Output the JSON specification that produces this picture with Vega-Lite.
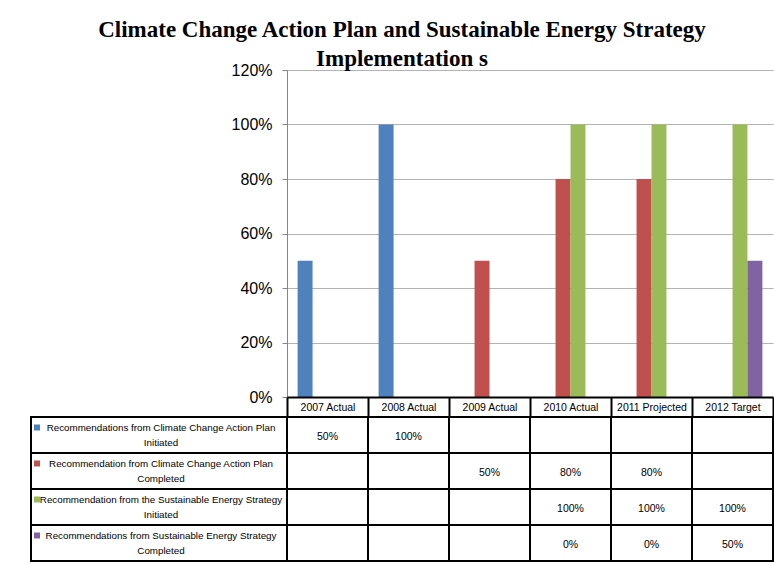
{
  "$schema": "https://vega.github.io/schema/vega-lite/v6.json",
  "padding": {"left": 30, "top": 19, "right": 0, "bottom": 0},
  "background": "white",
  "title": {
    "text": ["Climate Change Action Plan and Sustainable Energy Strategy", "Implementation s"],
    "font": "Liberation Serif",
    "fontSize": 23,
    "fontWeight": "bold",
    "lineHeight": 29,
    "color": "black",
    "anchor": "middle",
    "offset": -9
  },
  "datasets": {
    "cells": [
      {"period": "2007 Actual", "series": "Recommendations from Climate Change Action Plan\nInitiated", "value": 0.5},
      {"period": "2008 Actual", "series": "Recommendations from Climate Change Action Plan\nInitiated", "value": 1.0},
      {"period": "2009 Actual", "series": "Recommendations from Climate Change Action Plan\nInitiated", "value": null},
      {"period": "2010 Actual", "series": "Recommendations from Climate Change Action Plan\nInitiated", "value": null},
      {"period": "2011 Projected", "series": "Recommendations from Climate Change Action Plan\nInitiated", "value": null},
      {"period": "2012 Target", "series": "Recommendations from Climate Change Action Plan\nInitiated", "value": null},
      {"period": "2007 Actual", "series": "Recommendation from Climate Change Action Plan\nCompleted", "value": null},
      {"period": "2008 Actual", "series": "Recommendation from Climate Change Action Plan\nCompleted", "value": null},
      {"period": "2009 Actual", "series": "Recommendation from Climate Change Action Plan\nCompleted", "value": 0.5},
      {"period": "2010 Actual", "series": "Recommendation from Climate Change Action Plan\nCompleted", "value": 0.8},
      {"period": "2011 Projected", "series": "Recommendation from Climate Change Action Plan\nCompleted", "value": 0.8},
      {"period": "2012 Target", "series": "Recommendation from Climate Change Action Plan\nCompleted", "value": null},
      {"period": "2007 Actual", "series": "Recommendation from the Sustainable Energy Strategy\nInitiated", "value": null},
      {"period": "2008 Actual", "series": "Recommendation from the Sustainable Energy Strategy\nInitiated", "value": null},
      {"period": "2009 Actual", "series": "Recommendation from the Sustainable Energy Strategy\nInitiated", "value": null},
      {"period": "2010 Actual", "series": "Recommendation from the Sustainable Energy Strategy\nInitiated", "value": 1.0},
      {"period": "2011 Projected", "series": "Recommendation from the Sustainable Energy Strategy\nInitiated", "value": 1.0},
      {"period": "2012 Target", "series": "Recommendation from the Sustainable Energy Strategy\nInitiated", "value": 1.0},
      {"period": "2007 Actual", "series": "Recommendations from Sustainable Energy Strategy\nCompleted", "value": null},
      {"period": "2008 Actual", "series": "Recommendations from Sustainable Energy Strategy\nCompleted", "value": null},
      {"period": "2009 Actual", "series": "Recommendations from Sustainable Energy Strategy\nCompleted", "value": null},
      {"period": "2010 Actual", "series": "Recommendations from Sustainable Energy Strategy\nCompleted", "value": 0.0},
      {"period": "2011 Projected", "series": "Recommendations from Sustainable Energy Strategy\nCompleted", "value": 0.0},
      {"period": "2012 Target", "series": "Recommendations from Sustainable Energy Strategy\nCompleted", "value": 0.5}
    ]
  },
  "columns": 2,
  "spacing": {"row": 20, "column": 0},
  "bounds": "flush",
  "concat": [
    {
      "width": 256,
      "height": 327,
      "data": {"values": []},
      "mark": "text"
    },
    {
      "width": 486,
      "height": 327,
      "data": {"name": "cells"},
      "mark": {"type": "bar"},
      "encoding": {
        "x": {
          "field": "period",
          "type": "nominal",
          "sort": ["2007 Actual", "2008 Actual", "2009 Actual", "2010 Actual", "2011 Projected", "2012 Target"],
          "scale": {"paddingInner": 0, "paddingOuter": 0},
          "axis": {
            "title": null,
            "labelAngle": 0,
            "tickBand": "extent",
            "tickSize": 20,
            "tickWidth": 2,
            "tickColor": "black",
            "domainColor": "black",
            "domainWidth": 2,
            "labelBaseline": "middle",
            "labelPadding": -9.5,
            "labelFontSize": 10.5,
            "labelColor": "black",
            "grid": false,
            "zindex": 1
          }
        },
        "xOffset": {
          "field": "series",
          "type": "nominal",
          "sort": [
            "Recommendations from Climate Change Action Plan\nInitiated",
            "Recommendation from Climate Change Action Plan\nCompleted",
            "Recommendation from the Sustainable Energy Strategy\nInitiated",
            "Recommendations from Sustainable Energy Strategy\nCompleted"
          ],
          "scale": {"paddingInner": 0, "paddingOuter": 0.71}
        },
        "y": {
          "field": "value",
          "type": "quantitative",
          "scale": {"domain": [0, 1.2], "nice": false},
          "axis": {
            "title": null,
            "values": [0, 0.2, 0.4, 0.6, 0.8, 1.0, 1.2],
            "format": ".0%",
            "domainColor": "#868686",
            "tickColor": "#868686",
            "tickSize": 5,
            "labelPadding": 10,
            "labelFontSize": 16,
            "labelColor": "black",
            "gridColor": "#b3b3b3",
            "gridWidth": 1
          }
        },
        "color": {
          "field": "series",
          "type": "nominal",
          "scale": {
            "domain": [
              "Recommendations from Climate Change Action Plan\nInitiated",
              "Recommendation from Climate Change Action Plan\nCompleted",
              "Recommendation from the Sustainable Energy Strategy\nInitiated",
              "Recommendations from Sustainable Energy Strategy\nCompleted"
            ],
            "range": ["#4F81BD", "#C0504D", "#9BBB59", "#8064A2"]
          },
          "legend": null
        }
      }
    },
    {
      "width": 256,
      "height": 144,
      "data": {"name": "cells"},
      "transform": [{"aggregate": [{"op": "count", "as": "n"}], "groupby": ["series"]}],
      "encoding": {
        "y": {
          "field": "series",
          "type": "nominal",
          "sort": [
            "Recommendations from Climate Change Action Plan\nInitiated",
            "Recommendation from Climate Change Action Plan\nCompleted",
            "Recommendation from the Sustainable Energy Strategy\nInitiated",
            "Recommendations from Sustainable Energy Strategy\nCompleted"
          ],
          "scale": {"paddingInner": 0, "paddingOuter": 0},
          "axis": null
        }
      },
      "layer": [
        {"mark": {"type": "rect", "fill": "white", "stroke": "black", "strokeWidth": 2}},
        {
          "mark": {"type": "text", "lineBreak": "\n", "lineHeight": 15, "fontSize": 9.8, "align": "center", "baseline": "middle", "dx": 2, "dy": -7.5, "color": "black"},
          "encoding": {"text": {"field": "series", "type": "nominal"}}
        },
        {
          "mark": {"type": "square", "size": 36, "opacity": 1, "filled": true, "xOffset": -122, "yOffset": -7.5},
          "encoding": {
            "color": {
              "field": "series",
              "type": "nominal",
              "scale": {
                "domain": [
                  "Recommendations from Climate Change Action Plan\nInitiated",
                  "Recommendation from Climate Change Action Plan\nCompleted",
                  "Recommendation from the Sustainable Energy Strategy\nInitiated",
                  "Recommendations from Sustainable Energy Strategy\nCompleted"
                ],
                "range": ["#4F81BD", "#C0504D", "#9BBB59", "#8064A2"]
              },
              "legend": null
            }
          }
        }
      ]
    },
    {
      "width": 486,
      "height": 144,
      "data": {"name": "cells"},
      "encoding": {
        "x": {
          "field": "period",
          "type": "nominal",
          "sort": ["2007 Actual", "2008 Actual", "2009 Actual", "2010 Actual", "2011 Projected", "2012 Target"],
          "scale": {"paddingInner": 0, "paddingOuter": 0},
          "axis": null
        },
        "y": {
          "field": "series",
          "type": "nominal",
          "sort": [
            "Recommendations from Climate Change Action Plan\nInitiated",
            "Recommendation from Climate Change Action Plan\nCompleted",
            "Recommendation from the Sustainable Energy Strategy\nInitiated",
            "Recommendations from Sustainable Energy Strategy\nCompleted"
          ],
          "scale": {"paddingInner": 0, "paddingOuter": 0},
          "axis": null
        }
      },
      "layer": [
        {"mark": {"type": "rect", "fill": "white", "stroke": "black", "strokeWidth": 2}},
        {
          "transform": [{"filter": "isValid(datum.value)"}],
          "mark": {"type": "text", "fontSize": 10.5, "align": "center", "baseline": "middle", "dy": 2, "color": "black"},
          "encoding": {"text": {"field": "value", "type": "quantitative", "format": ".0%"}}
        }
      ]
    }
  ],
  "config": {
    "view": {"stroke": null},
    "font": "Liberation Sans, Arial, sans-serif"
  }
}
